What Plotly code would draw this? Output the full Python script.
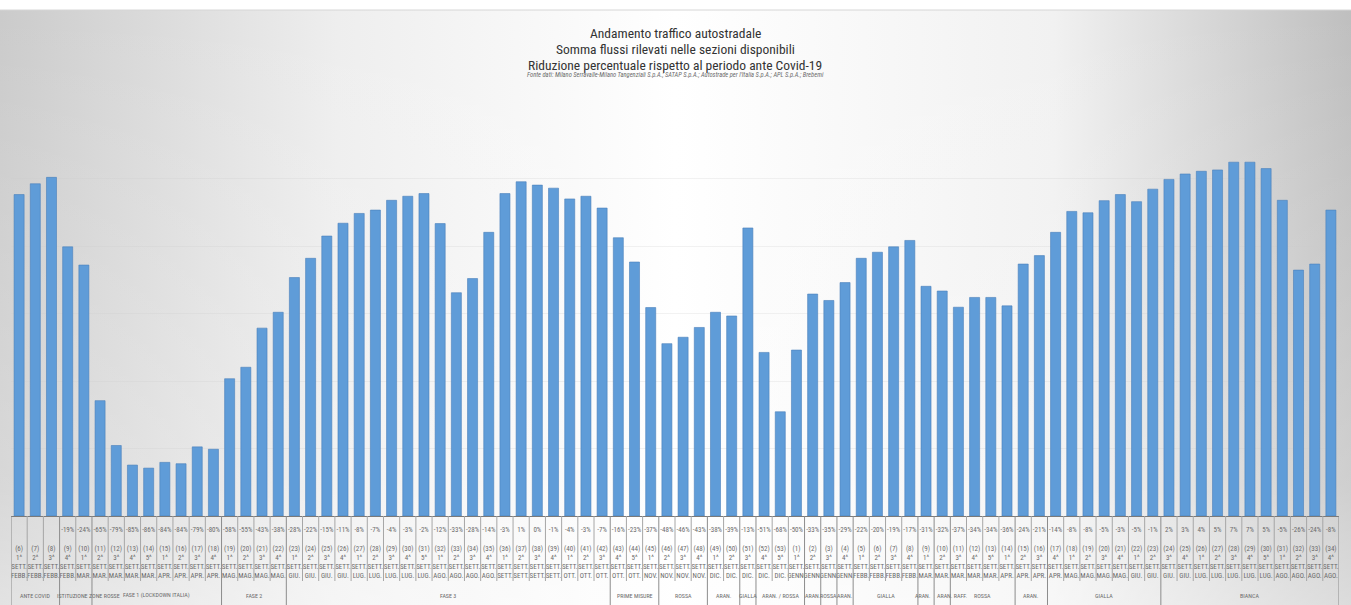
import base64
import plotly.graph_objects as go

# traffic level index per week (bar heights)
traffic_index = [
    95.3, 98.5, 100.4, 79.8, 74.4, 34.2, 20.9, 15.1, 14.2, 15.9,
    15.5, 20.5, 19.8, 40.7, 44.1, 55.7, 60.4, 70.7, 76.4, 83.0,
    86.8, 89.7, 90.7, 93.6, 94.8, 95.6, 86.7, 66.2, 70.4, 84.1,
    95.6, 99.1, 98.1, 97.2, 94.0, 94.8, 91.3, 82.5, 75.3, 61.8,
    51.1, 53.0, 55.9, 60.4, 59.3, 85.4, 48.5, 30.9, 49.2, 65.8,
    63.9, 69.2, 76.4, 78.2, 79.8, 81.7, 68.1, 66.7, 61.9, 64.8,
    64.8, 62.3, 74.7, 77.2, 84.1, 90.3, 89.9, 93.5, 95.3, 93.2,
    96.9, 99.8, 101.4, 102.2, 102.6, 104.9, 104.9, 103.0, 93.6, 72.9,
    74.7, 90.7,
]

var_pct = [
    "", "", "", "-19%", "-24%", "-65%", "-79%", "-85%", "-86%", "-84%",
    "-84%", "-79%", "-80%", "-58%", "-55%", "-43%", "-38%", "-28%", "-22%", "-15%",
    "-11%", "-8%", "-7%", "-4%", "-3%", "-2%", "-12%", "-33%", "-28%", "-14%",
    "-3%", "1%", "0%", "-1%", "-4%", "-3%", "-7%", "-16%", "-23%", "-37%",
    "-48%", "-46%", "-43%", "-38%", "-39%", "-13%", "-51%", "-68%", "-50%", "-33%",
    "-35%", "-29%", "-22%", "-20%", "-19%", "-17%", "-31%", "-32%", "-37%", "-34%",
    "-34%", "-36%", "-24%", "-21%", "-14%", "-8%", "-8%", "-5%", "-3%", "-5%",
    "-1%", "2%", "3%", "4%", "5%", "7%", "7%", "5%", "-5%", "-26%",
    "-24%", "-8%",
]

week_no = [
    6, 7, 8, 9, 10, 11, 12, 13, 14, 15, 16, 17, 18, 19, 20, 21, 22, 23, 24, 25,
    26, 27, 28, 29, 30, 31, 32, 33, 34, 35, 36, 37, 38, 39, 40, 41, 42, 43, 44, 45,
    46, 47, 48, 49, 50, 51, 52, 53, 1, 2, 3, 4, 5, 6, 7, 8, 9, 10, 11, 12,
    13, 14, 15, 16, 17, 18, 19, 20, 21, 22, 23, 24, 25, 26, 27, 28, 29, 30, 31, 32,
    33, 34,
]

week_ord = [
    1, 2, 3, 4, 1, 2, 3, 4, 5, 1, 2, 3, 4, 1, 2, 3, 4, 1, 2, 3,
    4, 1, 2, 3, 4, 5, 1, 2, 3, 4, 1, 2, 3, 4, 1, 2, 3, 4, 5, 1,
    2, 3, 4, 1, 2, 3, 4, 5, 1, 2, 3, 4, 1, 2, 3, 4, 1, 2, 3, 4,
    5, 1, 2, 3, 4, 1, 2, 3, 4, 1, 2, 3, 4, 1, 2, 3, 4, 5, 1, 2,
    3, 4,
]

month = [
    "FEBB.", "FEBB.", "FEBB.", "FEBB.", "MAR.", "MAR.", "MAR.", "MAR.", "MAR.", "APR.",
    "APR.", "APR.", "APR.", "MAG.", "MAG.", "MAG.", "MAG.", "GIU.", "GIU.", "GIU.",
    "GIU.", "LUG.", "LUG.", "LUG.", "LUG.", "LUG.", "AGO.", "AGO.", "AGO.", "AGO.",
    "SETT.", "SETT.", "SETT.", "SETT.", "OTT.", "OTT.", "OTT.", "OTT.", "OTT.", "NOV.",
    "NOV.", "NOV.", "NOV.", "DIC.", "DIC.", "DIC.", "DIC.", "DIC.", "GENN.", "GENN.",
    "GENN.", "GENN.", "FEBB.", "FEBB.", "FEBB.", "FEBB.", "MAR.", "MAR.", "MAR.", "MAR.",
    "MAR.", "APR.", "APR.", "APR.", "APR.", "MAG.", "MAG.", "MAG.", "MAG.", "GIU.",
    "GIU.", "GIU.", "GIU.", "LUG.", "LUG.", "LUG.", "LUG.", "LUG.", "AGO.", "AGO.",
    "AGO.", "AGO.",
]

group_names = [
    "ANTE COVID", "ISTITUZIONE ZONE ROSSE", "FASE 1 (LOCKDOWN ITALIA)", "FASE 2",
    "FASE 3", "PRIME MISURE", "ROSSA", "ARAN.", "GIALLA", "ARAN. / ROSSA", "ARAN.",
    "ROSSA", "ARAN.", "GIALLA", "ARAN.", "ARAN. RAFF.", "ROSSA", "ARAN.", "GIALLA",
    "BIANCA",
]
group_sizes = [3, 2, 8, 4, 20, 3, 3, 2, 1, 3, 1, 1, 1, 4, 1, 1, 4, 2, 7, 11]

# figure geometry (pixels)
W, H = 1351, 605
ML, MR, MT, MB = 11, 12, 118, 89
PW, PH = W - ML - MR, H - MT - MB

NARROW = "Liberation Sans Narrow, Arial Narrow, Roboto Condensed, DejaVu Sans Condensed, Liberation Sans, sans-serif"

x = list(range(len(traffic_index)))
ticktext = [
    f"{p if p else ' '}<br> <br>({w})<br>{o}^<br>SETT.<br>{m}"
    for p, w, o, m in zip(var_pct, week_no, week_ord, month)
]

fig = go.Figure()
fig.add_trace(go.Bar(
    x=x,
    y=traffic_index,
    marker={"color": "#5f9cd8", "line": {"color": "#4a80bb", "width": 0.6}},
    hoverinfo="y",
))

# background gradient (grey sides, white centre)
svg = (
    '<svg xmlns="http://www.w3.org/2000/svg" width="200" height="100" preserveAspectRatio="none">'
    '<defs><linearGradient id="g" x1="0" y1="0" x2="1" y2="0">'
    '<stop offset="0" stop-color="#cbcbcb"/><stop offset="0.25" stop-color="#eeeeee"/>'
    '<stop offset="0.5" stop-color="#ffffff"/><stop offset="0.78" stop-color="#f1f1f1"/>'
    '<stop offset="1" stop-color="#bfbfbf"/></linearGradient>'
    '<linearGradient id="v" x1="0" y1="0" x2="0" y2="1">'
    '<stop offset="0" stop-color="#ffffff" stop-opacity="0"/>'
    '<stop offset="0.8" stop-color="#ffffff" stop-opacity="0.25"/>'
    '<stop offset="1" stop-color="#ffffff" stop-opacity="0.45"/></linearGradient></defs>'
    '<rect width="200" height="100" fill="url(#g)"/><rect width="200" height="100" fill="url(#v)"/></svg>'
)
bg_src = "data:image/svg+xml;base64," + base64.b64encode(svg.encode()).decode()
top_px = 10
fig.add_layout_image(
    source=bg_src, xref="paper", yref="paper",
    x=-ML / PW, y=1 + (MT - top_px) / PH,
    sizex=W / PW, sizey=(H - top_px) / PH,
    xanchor="left", yanchor="top", sizing="stretch", layer="below",
)

shapes = [
    dict(type="line", xref="paper", yref="paper",
         x0=-ML / PW, x1=1 + MR / PW,
         y0=1 + (MT - top_px) / PH, y1=1 + (MT - top_px) / PH,
         line={"color": "#d6d6d6", "width": 1}),
]

# table grid under the axis
boundaries = {-0.5}
pos = -0.5
for s in group_sizes:
    pos += s
    boundaries.add(pos)
for i in range(len(x) + 1):
    b = i - 0.5
    long = b in boundaries
    shapes.append(dict(
        type="line", xref="x", yref="paper", ysizemode="pixel", yanchor=0,
        x0=b, x1=b, y0=0, y1=-(H - MT - PH) if long else -65,
        line={"color": "#8c8c8c" if long else "#a6a6a6", "width": 1},
    ))

# group labels; the two crowded pairs are set edge to edge on their shared border
label_y = -(595 - MT - PH) / PH
start = 0
annotations = []
for k, (name, s) in enumerate(zip(group_names, group_sizes)):
    ann = dict(
        x=start + (s - 1) / 2, xanchor="center",
        xref="x", y=label_y, yref="paper",
        text=name, showarrow=False, yanchor="middle",
        font={"family": NARROW, "size": 6, "color": "#6b6b6b"},
    )
    if name == "ISTITUZIONE ZONE ROSSE":
        ann.update(x=start - 0.8, xanchor="left")
    if name == "ARAN. RAFF.":
        ann.update(x=start - 0.45, xanchor="left")
    if group_names[k + 1:k + 2] == ["ARAN. RAFF."]:
        ann.update(x=start + s - 0.55, xanchor="right")
    annotations.append(ann)
    start += s

titles = [
    ("Andamento traffico autostradale", 33),
    ("Somma flussi rilevati nelle sezioni disponibili", 49),
    ("Riduzione percentuale rispetto al periodo ante Covid-19", 65),
]
for text, ypx in titles:
    annotations.append(dict(
        x=0.5, xref="paper", y=1 + (MT - ypx) / PH, yref="paper",
        text=text, showarrow=False, yanchor="middle",
        font={"family": NARROW, "size": 13.5, "color": "#333333"},
    ))
annotations.append(dict(
    x=0.5, xref="paper", y=1 + (MT - 75) / PH, yref="paper",
    text="<i>Fonte dati: Milano Serravalle-Milano Tangenziali S.p.A.; SATAP S.p.A.; "
         "Autostrade per l'Italia S.p.A.; APL S.p.A.; Brebemi</i>",
    showarrow=False, yanchor="middle",
    font={"family": NARROW, "size": 6.5, "color": "#6b6b6b"},
))

fig.update_layout(
    width=W, height=H, autosize=False,
    margin={"l": ML, "r": MR, "t": MT, "b": MB, "pad": 0},
    paper_bgcolor="white",
    plot_bgcolor="rgba(0,0,0,0)",
    bargap=0.38,
    showlegend=False,
    shapes=shapes,
    annotations=annotations,
    xaxis={
        "range": [-0.5, len(x) - 0.5],
        "tickmode": "array",
        "tickvals": x,
        "ticktext": ticktext,
        "tickangle": 0,
        "ticks": "",
        "ticklabelstandoff": 7,
        "showgrid": False,
        "showline": True,
        "linecolor": "#7a7a7a",
        "linewidth": 1,
        "tickfont": {"family": NARROW, "size": 7, "color": "#6b6b6b"},
        "fixedrange": True,
    },
    yaxis={
        "range": [0, 118],
        "dtick": 20,
        "showticklabels": False,
        "showgrid": True,
        "gridcolor": "rgba(205,205,205,0.25)",
        "zeroline": False,
        "fixedrange": True,
    },
)

# drop the default page margin so the figure sits at the window's top-left corner
fig.write_html(
    "out.html",
    config={"displayModeBar": False},
    post_script="document.body.style.margin='0px';",
)
